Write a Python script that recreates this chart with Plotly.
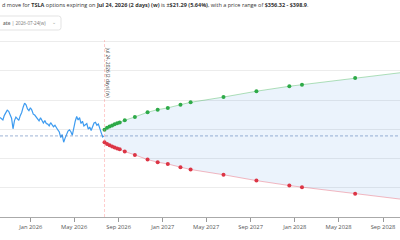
import pandas as pd
import plotly.graph_objects as go

# ---------------- DATA ----------------
ticker = "TSLA"
current_price = 377.61
history_start = "2025-10-08"
history_step_days = 4
history_prices = [
    441, 436, 432, 448, 455, 466, 462, 452, 438, 402,
    430, 442, 436, 431, 447, 458, 476, 490, 484, 470,
    464, 474, 466, 452, 449, 442, 436, 429, 440, 432,
    422, 430, 420, 418, 412, 423, 415, 409, 414, 404,
    398, 391, 372, 382, 356, 370, 386, 394, 398, 392,
    380, 410, 428, 444, 432, 440, 420, 428, 412, 416,
    420, 401, 408, 396, 412, 422, 424, 414, 418, 400,
    388, 374,
]
last_date = "2026-07-22"

expiry_dates = [
    "2026-07-24", "2026-07-31", "2026-08-07", "2026-08-14", "2026-08-21",
    "2026-08-28", "2026-09-04", "2026-09-18", "2026-10-16", "2026-11-20",
    "2026-12-18", "2027-01-15", "2027-02-19", "2027-03-19", "2027-06-18",
    "2027-09-17", "2027-12-17", "2028-01-21", "2028-06-16", "2028-12-15",
]
expected_moves = [
    21.29, 28, 32, 36, 40,
    43, 46, 53.5, 65, 81,
    90, 96, 107, 115, 133,
    153, 170, 175.5, 198, 225,
]

x_range = ["2025-10-08", "2028-10-18"]
y_range = [100, 706]

header_text = ("d move for <b>TSLA</b> options expiring on <b>Jul 24, 2026 (2 days) (w)</b> "
               "is <b>±$21.29 (5.64%)</b>, with a price range of <b>$356.32 - $398.9</b>.")
dropdown_text = "<b>ate</b> | 2026-07-24(w)"
vline_text = "Jul 24, 2026 (2 days) (w)"

# ---------------- BUILD ----------------
hist_dates = list(pd.date_range(history_start, periods=len(history_prices),
                                freq=f"{history_step_days}D").strftime("%Y-%m-%d"))
hist_dates.append(last_date)
hist_vals = history_prices + [current_price]

upper = [current_price + m for m in expected_moves]
lower = [current_price - m for m in expected_moves]

W, H = 400, 240
ML, MR, MT, MB = 0, 0, 40, 23
PW, PH = W - ML - MR, H - MT - MB


def px(xp):
    return (xp - ML) / PW


def py(yp):
    return (H - MB - yp) / PH


def rounded_rect(x0, y0, x1, y1, r):
    # pixel coords -> paper path with rounded corners
    X = lambda v: f"{px(v):.5f}"
    Y = lambda v: f"{py(v):.5f}"
    return (f"M {X(x0 + r)} {Y(y0)} L {X(x1 - r)} {Y(y0)} "
            f"Q {X(x1)} {Y(y0)} {X(x1)} {Y(y0 + r)} L {X(x1)} {Y(y1 - r)} "
            f"Q {X(x1)} {Y(y1)} {X(x1 - r)} {Y(y1)} L {X(x0 + r)} {Y(y1)} "
            f"Q {X(x0)} {Y(y1)} {X(x0)} {Y(y1 - r)} L {X(x0)} {Y(y0 + r)} "
            f"Q {X(x0)} {Y(y0)} {X(x0 + r)} {Y(y0)} Z")


fig = go.Figure()

# fill between bounds
fig.add_trace(go.Scatter(x=expiry_dates, y=lower, mode="lines",
                         line=dict(width=0), hoverinfo="skip", showlegend=False))
fig.add_trace(go.Scatter(x=expiry_dates, y=upper, mode="lines", fill="tonexty",
                         fillcolor="rgba(33,120,220,0.09)",
                         line=dict(width=0), hoverinfo="skip", showlegend=False))

# price history
fig.add_trace(go.Scatter(x=hist_dates, y=hist_vals, mode="lines",
                         line=dict(color="#3d9bf0", width=1.2), showlegend=False))

# upper / lower bounds
fig.add_trace(go.Scatter(x=expiry_dates, y=upper, mode="lines+markers",
                         line=dict(color="rgba(60,180,80,0.4)", width=1),
                         marker=dict(color="#2eaa48", size=4), showlegend=False))
fig.add_trace(go.Scatter(x=expiry_dates, y=lower, mode="lines+markers",
                         line=dict(color="rgba(230,80,100,0.4)", width=1),
                         marker=dict(color="#dc3545", size=4), showlegend=False))

shapes = [
    dict(type="line", xref="paper", yref="y", x0=0, x1=1,
         y0=current_price, y1=current_price,
         line=dict(color="rgba(80,120,180,0.7)", width=0.8, dash="3px,2px"), layer="above"),
    dict(type="line", xref="x", yref="paper", x0=expiry_dates[0], x1=expiry_dates[0],
         y0=0, y1=1, line=dict(color="rgba(255,110,110,0.35)", width=1, dash="3px,2px")),
    # dropdown box
    dict(type="path", xref="paper", yref="paper", path=rounded_rect(-4, 16, 61, 30, 2.5),
         line=dict(color="#dcdcdc", width=0.8), fillcolor="white", layer="above"),
]

annotations = [
    dict(text=header_text, xref="paper", yref="paper", x=px(0), y=py(5),
         xanchor="left", yanchor="middle", showarrow=False,
         font=dict(family="Open Sans", size=5.5, color="#333")),
    dict(text=dropdown_text, xref="paper", yref="paper", x=px(0.5), y=py(23),
         xanchor="left", yanchor="middle", showarrow=False,
         font=dict(family="Open Sans", size=4.6, color="#777")),
    dict(text="⌄", xref="paper", yref="paper", x=px(54), y=py(22),
         xanchor="center", yanchor="middle", showarrow=False,
         font=dict(family="DejaVu Sans", size=5, color="#999")),
    dict(text=vline_text, xref="x", yref="paper", x=expiry_dates[0], xshift=4,
         y=py(45), xanchor="center", yanchor="top", textangle=90, showarrow=False,
         font=dict(family="Open Sans", size=4.6, color="#444")),
]

fig.update_layout(
    width=W, height=H, margin=dict(l=ML, r=MR, t=MT, b=MB),
    paper_bgcolor="white", plot_bgcolor="white",
    shapes=shapes, annotations=annotations, showlegend=False,
    xaxis=dict(range=x_range, type="date", tick0="2026-01-01", dtick="M4",
               tickformat="%b %Y", showgrid=False, ticks="outside", ticklen=4,
               tickcolor="#999", showline=True, linecolor="#aaa", linewidth=1,
               tickfont=dict(family="Open Sans", size=5.8, color="#555"), zeroline=False),
    yaxis=dict(range=y_range, dtick=100, tick0=0, showticklabels=False,
               gridcolor="#ececec", gridwidth=1, zeroline=False, showline=False),
)

fig.write_html("out.html")
